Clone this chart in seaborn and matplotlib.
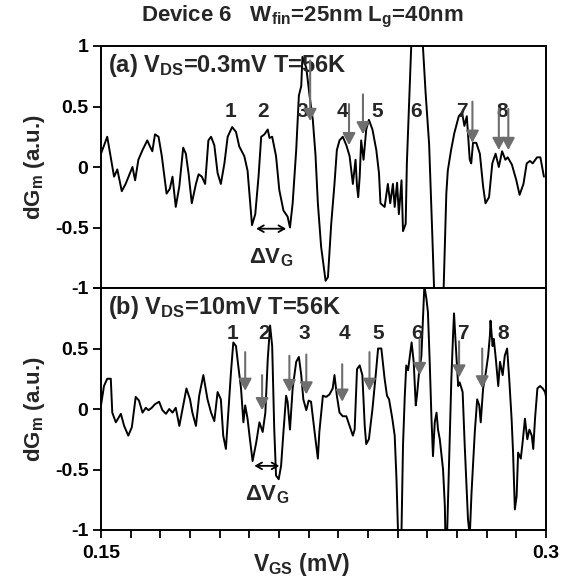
import numpy as np
import pandas as pd
import matplotlib
matplotlib.use("Agg")
import matplotlib.pyplot as plt
import seaborn as sns

sns.set_theme(style="white")
plt.rcParams["font.family"] = ["Liberation Sans", "DejaVu Sans"]
plt.rcParams["font.weight"] = "bold"
plt.rcParams["mathtext.fontset"] = "custom"
plt.rcParams["mathtext.rm"] = "Liberation Sans:bold"
plt.rcParams["mathtext.it"] = "Liberation Sans:bold"
plt.rcParams["mathtext.bf"] = "Liberation Sans:bold"
plt.rcParams["mathtext.default"] = "rm"

# ---- panel (a): VDS = 0.3 mV ----
vgs_a = [0.1500, 0.1521, 0.1544, 0.1555, 0.1570, 0.1583, 0.1606, 0.1615, 0.1626, 0.1640,
         0.1656, 0.1665, 0.1673, 0.1682, 0.1694, 0.1705, 0.1721, 0.1732, 0.1741, 0.1752,
         0.1764, 0.1777, 0.1786, 0.1795, 0.1806, 0.1820, 0.1829, 0.1840, 0.1851, 0.1862,
         0.1871, 0.1882, 0.1893, 0.1904, 0.1916, 0.1927, 0.1942, 0.1955, 0.1966, 0.1983,
         0.1994, 0.2009, 0.2020, 0.2031, 0.2040, 0.2051, 0.2062, 0.2068, 0.2077, 0.2090,
         0.2101, 0.2115, 0.2129, 0.2137, 0.2146, 0.2158, 0.2167, 0.2175, 0.2179, 0.2192,
         0.2203, 0.2214, 0.2223, 0.2231, 0.2242, 0.2257, 0.2265, 0.2276, 0.2287, 0.2295,
         0.2304, 0.2315, 0.2327, 0.2338, 0.2349, 0.2358, 0.2363, 0.2367, 0.2372, 0.2377,
         0.2385, 0.2394, 0.2403, 0.2415, 0.2428, 0.2437, 0.2442, 0.2456, 0.2467, 0.2475,
         0.2484, 0.2490, 0.2498, 0.2504, 0.2513, 0.2518, 0.2527, 0.2531, 0.2538, 0.2548,
         0.2560, 0.2578, 0.2585, 0.2594, 0.2606, 0.2617, 0.2624, 0.2640, 0.2655, 0.2664,
         0.2669, 0.2680, 0.2691, 0.2706, 0.2717, 0.2725, 0.2733, 0.2743, 0.2748, 0.2754,
         0.2765, 0.2777, 0.2788, 0.2796, 0.2808, 0.2819, 0.2830, 0.2841, 0.2852, 0.2863,
         0.2871, 0.2885, 0.2900, 0.2911, 0.2924, 0.2935, 0.2946, 0.2955, 0.2970, 0.2981,
         0.2993]
dgm_a = [0.11, 0.25, -0.08, -0.02, -0.20, -0.14, 0.00, -0.11, 0.06, 0.14,
         0.22, 0.17, 0.13, 0.27, 0.25, 0.09, -0.22, -0.18, -0.08, -0.33,
         -0.16, 0.16, 0.11, -0.05, -0.30, -0.14, -0.06, -0.08, -0.14, 0.22,
         0.25, 0.18, -0.05, -0.14, 0.03, 0.25, 0.33, 0.29, 0.17, 0.09,
         -0.03, -0.48, -0.39, -0.08, 0.25, 0.27, 0.31, 0.24, 0.25, 0.09,
         -0.19, -0.36, -0.41, -0.50, -0.30, 0.14, 0.59, 0.67, 0.91, 0.82,
         0.59, 0.39, 0.10, -0.30, -0.66, -0.94, -0.91, -0.47, -0.14, 0.14,
         0.22, 0.25, 0.18, 0.09, -0.14, 0.06, -0.16, -0.25, -0.08, 0.22,
         0.06, 0.31, 0.39, 0.31, 0.14, -0.05, -0.30, -0.33, -0.14, -0.30,
         -0.14, -0.33, -0.13, -0.39, -0.11, -0.53, -0.47, 0.03, 0.50, 1.15,
         1.35, 1.30, 1.00, 0.62, 0.19, -0.58, -1.10, -1.35, -1.00, -0.22,
         -0.03, 0.14, 0.28, 0.42, 0.45, 0.34, 0.42, 0.06, 0.03, 0.20,
         0.20, 0.11, -0.16, -0.30, -0.25, 0.03, 0.11, 0.00, 0.13, 0.06,
         0.08, 0.02, -0.11, -0.23, -0.14, 0.03, 0.05, 0.03, 0.08, 0.08,
         -0.08]

# ---- panel (b): VDS = 10 mV ----
vgs_b = [0.1500, 0.1510, 0.1521, 0.1533, 0.1538, 0.1550, 0.1567, 0.1578, 0.1592, 0.1604,
         0.1617, 0.1628, 0.1640, 0.1651, 0.1660, 0.1671, 0.1682, 0.1696, 0.1707, 0.1719,
         0.1730, 0.1741, 0.1752, 0.1764, 0.1775, 0.1788, 0.1800, 0.1808, 0.1820, 0.1831,
         0.1845, 0.1859, 0.1871, 0.1882, 0.1893, 0.1904, 0.1912, 0.1921, 0.1930, 0.1938,
         0.1946, 0.1955, 0.1964, 0.1972, 0.1980, 0.1986, 0.1994, 0.2002, 0.2011, 0.2023,
         0.2034, 0.2045, 0.2054, 0.2062, 0.2070, 0.2077, 0.2084, 0.2090, 0.2099, 0.2107,
         0.2115, 0.2124, 0.2129, 0.2137, 0.2146, 0.2158, 0.2167, 0.2175, 0.2182, 0.2192,
         0.2200, 0.2208, 0.2220, 0.2231, 0.2236, 0.2248, 0.2259, 0.2270, 0.2281, 0.2287,
         0.2295, 0.2304, 0.2315, 0.2327, 0.2338, 0.2349, 0.2355, 0.2363, 0.2372, 0.2381,
         0.2389, 0.2394, 0.2403, 0.2415, 0.2426, 0.2434, 0.2445, 0.2456, 0.2464, 0.2471,
         0.2482, 0.2490, 0.2496, 0.2501, 0.2507, 0.2513, 0.2518, 0.2524, 0.2529, 0.2535,
         0.2543, 0.2547, 0.2554, 0.2561, 0.2565, 0.2572, 0.2580, 0.2585, 0.2590, 0.2597,
         0.2602, 0.2608, 0.2614, 0.2619, 0.2625, 0.2631, 0.2636, 0.2642, 0.2653, 0.2659,
         0.2662, 0.2667, 0.2681, 0.2687, 0.2690, 0.2696, 0.2704, 0.2709, 0.2719, 0.2726,
         0.2732, 0.2737, 0.2743, 0.2749, 0.2754, 0.2760, 0.2768, 0.2775, 0.2780, 0.2788,
         0.2797, 0.2805, 0.2811, 0.2813, 0.2820, 0.2824, 0.2831, 0.2839, 0.2845, 0.2854,
         0.2861, 0.2869, 0.2876, 0.2884, 0.2889, 0.2895, 0.2901, 0.2906, 0.2915, 0.2921,
         0.2929, 0.2937, 0.2944, 0.2952, 0.2957, 0.2963, 0.2971, 0.2980, 0.2989, 0.2997,
         0.3000]
dgm_b = [0.03, 0.19, 0.25, 0.25, -0.03, -0.11, -0.04, -0.14, -0.22, -0.15,
         0.10, 0.07, -0.03, 0.01, -0.01, 0.01, 0.04, 0.06, -0.01, -0.04,
         0.00, -0.03, 0.01, -0.14, 0.00, 0.17, 0.08, -0.03, -0.14, 0.11,
         0.28, 0.08, -0.03, -0.10, 0.14, 0.08, -0.22, -0.33, 0.00, 0.30,
         0.55, 0.52, 0.33, 0.17, -0.11, 0.03, -0.08, -0.25, -0.43, -0.28,
         -0.11, -0.19, -0.03, 0.41, 0.69, 0.52, -0.17, -0.55, -0.58, -0.47,
         -0.19, 0.11, 0.06, -0.17, 0.17, 0.39, 0.43, 0.28, 0.08, -0.01,
         0.07, 0.06, -0.19, -0.41, -0.19, 0.11, 0.10, 0.12, 0.17, 0.28,
         0.11, -0.03, -0.06, -0.06, -0.14, -0.22, -0.17, 0.33, 0.36, 0.28,
         -0.14, -0.29, -0.25, 0.00, 0.28, 0.50, 0.50, 0.25, 0.11, 0.08,
         -0.08, -0.22, -0.58, -1.00, -1.30, -1.00, -0.30, 0.11, 0.36, 0.32,
         0.47, 0.55, 0.39, 0.03, 0.11, 0.30, 0.44, 0.74, 1.02, 0.91,
         0.80, 0.39, -0.08, -0.39, -0.11, -0.03, -0.17, -0.25, -0.50, -0.80,
         -1.20, -1.00, 0.25, 0.63, 0.79, 0.52, 0.19, 0.22, 0.14, -0.30,
         -0.63, -0.91, -1.05, -0.69, -0.47, -0.19, 0.08, 0.03, -0.11, 0.17,
         0.30, 0.44, 0.61, 0.73, 0.52, 0.58, 0.41, 0.19, 0.39, 0.28,
         0.44, 0.50, 0.25, -0.08, -0.36, -0.83, -0.72, -0.36, -0.41, -0.28,
         -0.08, -0.25, -0.17, -0.22, -0.33, -0.08, 0.17, 0.19, 0.17, 0.14,
         0.10]

# peak numbers and their positions
peak_labels = ["1", "2", "3", "4", "5", "6", "7", "8"]
peak_x_a = [0.1938, 0.2045, 0.2180, 0.2313, 0.2430, 0.2561, 0.2717, 0.2852]
peak_x_b = [0.1944, 0.2051, 0.2186, 0.2321, 0.2436, 0.2565, 0.2721, 0.2856]

# gray marker arrows: x, start y, tip y
arrow_x_a = [0.2205, 0.2336, 0.2383, 0.2752, 0.2841, 0.2873]
arrow_y0_a = [0.88, 0.52, 0.60, 0.54, 0.48, 0.48]
arrow_y1_a = [0.38, 0.18, 0.27, 0.20, 0.14, 0.14]
arrow_x_b = [0.1986, 0.2043, 0.2135, 0.2192, 0.2313, 0.2405, 0.2574, 0.2707, 0.2785]
arrow_y0_b = [0.47, 0.28, 0.44, 0.45, 0.37, 0.47, 0.58, 0.56, 0.50]
arrow_y1_b = [0.15, -0.01, 0.14, 0.12, 0.06, 0.15, 0.28, 0.26, 0.17]

# spacing arrows (ΔVG): left x, right x, y
dvg_a = [0.2023, 0.2124, -0.51]
dvg_b = [0.2017, 0.2101, -0.47]

W, H = 570, 577
fig = plt.figure(figsize=(W / 100, H / 100), dpi=100)
L, R = 101 / W, 546 / W
ax_a = fig.add_axes([L, 1 - 288 / H, R - L, 242 / H])
ax_b = fig.add_axes([L, 1 - 530 / H, R - L, 242 / H], sharex=ax_a)

df_a = pd.DataFrame({"VGS": vgs_a, "dGm": dgm_a})
df_b = pd.DataFrame({"VGS": vgs_b, "dGm": dgm_b})

arrow_gray = "#6e6e6e"


def draw_panel(ax, df, label, peak_x, peak_y, ax_x, ay0, ay1, dvg, show_x):
    sns.lineplot(data=df, x="VGS", y="dGm", ax=ax, color="black", lw=1.4,
                 estimator=None, sort=False, legend=False)
    ax.set_xlim(0.15, 0.30)
    ax.set_ylim(-1, 1)
    ax.set_yticks([-1, -0.5, 0, 0.5, 1])
    # the two panels share the boundary line, so its "-1 / 1" is written once
    ax.set_yticklabels(["-1", "-0.5", "0", "0.5", "1" if not show_x else ""])
    ax.set_ylabel("dG$_{m}$ (a.u.)", fontsize=16, fontweight="bold", labelpad=6)
    for s in ax.spines.values():
        s.set_color("black")
        s.set_linewidth(1.4)
    ax.tick_params(axis="y", direction="out", length=6, width=1.3, labelsize=14,
                   pad=3, left=True, colors="black")
    for t in ax.get_yticklabels():
        t.set_fontweight("bold")
    if show_x:
        ax.set_xticks(np.round(np.arange(0.15, 0.3001, 0.01), 2))
        ax.set_xticklabels(["0.15"] + [""] * 14 + ["0.3"])
        ax.tick_params(axis="x", direction="out", length=6, width=1.3, labelsize=14,
                       pad=5, bottom=True, colors="black")
        for t in ax.get_xticklabels():
            t.set_fontweight("bold")
        ax.set_xlabel("V$_{GS}$ (mV)", fontsize=16.5, fontweight="bold")
        ax.xaxis.set_label_coords(0.45, -35 / 242)
        ax.xaxis.label.set_va("center")
    else:
        ax.tick_params(axis="x", bottom=False, labelbottom=False)
        ax.set_xlabel("")
    ax.text(0.015, 0.975, label, transform=ax.transAxes, ha="left", va="top",
            fontsize=17, fontweight="bold")
    for lab, px in zip(peak_labels, peak_x):
        ax.text(px, peak_y, lab, ha="center", va="center", fontsize=15,
                fontweight="bold")
    for x, y0, y1 in zip(ax_x, ay0, ay1):
        ax.annotate("", xy=(x, y1), xytext=(x, y0),
                    arrowprops=dict(arrowstyle="-|>,head_length=0.6,head_width=0.32",
                                    color=arrow_gray, lw=1.5, shrinkA=0, shrinkB=0))
    ax.annotate("", xy=(dvg[0], dvg[2]), xytext=(dvg[1], dvg[2]),
                arrowprops=dict(arrowstyle="<->,head_length=0.35,head_width=0.2",
                                color="black", lw=1.3, shrinkA=0, shrinkB=0))
    ax.text((dvg[0] + dvg[1]) / 2, dvg[2] - 0.24, r"$\Delta$V$_{G}$",
            ha="center", va="center", fontsize=16, fontweight="bold")


draw_panel(ax_a, df_a, "(a) V$_{DS}$=0.3mV T=56K", peak_x_a, 0.46,
           arrow_x_a, arrow_y0_a, arrow_y1_a, dvg_a, False)
draw_panel(ax_b, df_b, "(b) V$_{DS}$=10mV T=56K", peak_x_b, 0.62,
           arrow_x_b, arrow_y0_b, arrow_y1_b, dvg_b, True)

fig.text(302 / W, 1 - 17 / H, "Device 6   W$_{fin}$=25nm L$_{g}$=40nm",
         ha="center", va="center", fontsize=16, fontweight="bold")

fig.savefig("out.png", dpi=100, facecolor="white")
